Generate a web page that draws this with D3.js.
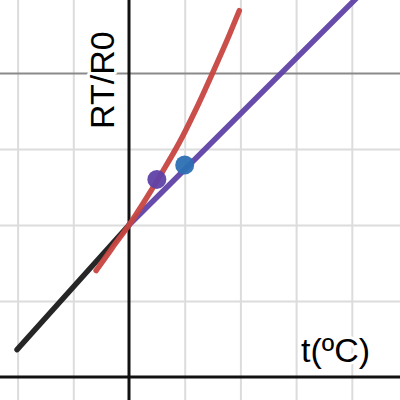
<!DOCTYPE html>
<html>
<head>
<meta charset="utf-8">
<script src="https://cdn.jsdelivr.net/npm/d3@7/dist/d3.min.js"></script>
<style>
  html, body { margin: 0; padding: 0; background: #fff; }
  svg { display: block; }
  .lbl { font-family: "Liberation Sans", Arial, sans-serif; font-size: 34px; fill: #000;
         stroke: #fff; stroke-width: 6px; paint-order: stroke; stroke-linejoin: round; }
</style>
</head>
<body>
<svg id="chart" width="400" height="400"></svg>
<script>
// ---- data (t in °C, RT/R0) ----
const xMinorTicks = [-200, -100, 100, 200, 300, 400];
const yMinorTicks = [0.5, 1, 1.5];
const yMajorTicks = [2];

const blackT = [-201, 0];
const blackR = [0.18, 1.0];

const purpleT = [0, 420];
const purpleR = [1.0, 2.535];

const redT = [-59, -30, 0, 30, 60, 90, 120, 150, 180, 198];
const redR = [0.70, 0.85, 1.0, 1.17, 1.35, 1.54, 1.76, 2.0, 2.25, 2.41];

const dotPurple = { t: 50, r: 1.30 };
const dotBlue = { t: 100, r: 1.395 };

const xLabel = "t(ºC)";
const yLabel = "RT/R0";

// ---- drawing ----
const W = 400, H = 400;
const svg = d3.select("#chart");
const x = d3.scaleLinear().domain([-231.6, 486.5]).range([0, W]);
const y = d3.scaleLinear().domain([-0.1513, 2.4803]).range([H, 0]);

function gridX(ticks, color, width) {
  const g = svg.append("g").attr("transform", `translate(0,${H})`)
    .call(d3.axisBottom(x).tickValues(ticks).tickSize(-H).tickFormat(""));
  g.select(".domain").remove();
  g.selectAll(".tick line").attr("stroke", color).attr("stroke-width", width);
}
function gridY(ticks, color, width) {
  const g = svg.append("g")
    .call(d3.axisLeft(y).tickValues(ticks).tickSize(-W).tickFormat(""));
  g.select(".domain").remove();
  g.selectAll(".tick line").attr("stroke", color).attr("stroke-width", width);
}
gridX(xMinorTicks, "#dcdcdc", 2);
gridY(yMinorTicks, "#dcdcdc", 2);
gridY(yMajorTicks, "#8a8a8a", 2);

// axes
svg.append("line").attr("x1", 0).attr("x2", W).attr("y1", y(0)).attr("y2", y(0))
  .attr("stroke", "#111").attr("stroke-width", 3);
svg.append("line").attr("x1", x(0)).attr("x2", x(0)).attr("y1", 0).attr("y2", H)
  .attr("stroke", "#111").attr("stroke-width", 3);

// labels
svg.append("text").attr("class", "lbl").attr("x", 301).attr("y", 362).text(xLabel);
svg.append("text").attr("class", "lbl")
  .attr("transform", `translate(114,129) rotate(-90)`).text(yLabel);

function drawLine(ts, rs, color, curve) {
  const pts = ts.map((t, i) => [t, rs[i]]);
  svg.append("path").datum(pts)
    .attr("fill", "none").attr("stroke", color).attr("stroke-width", 5.5)
    .attr("stroke-opacity", 0.95)
    .attr("stroke-linecap", "round").attr("stroke-linejoin", "round")
    .attr("d", d3.line().x(d => x(d[0])).y(d => y(d[1])).curve(curve || d3.curveLinear));
}
drawLine(blackT, blackR, "#1a1a1a");
drawLine(purpleT, purpleR, "#6042a6");
drawLine(redT, redR, "#c74440", d3.curveMonotoneX);

svg.append("circle").attr("cx", x(dotPurple.t)).attr("cy", y(dotPurple.r)).attr("r", 9.5)
  .attr("fill", "#6042a6").attr("fill-opacity", 0.95);
svg.append("circle").attr("cx", x(dotBlue.t)).attr("cy", y(dotBlue.r)).attr("r", 9.5)
  .attr("fill", "#2d70b3").attr("fill-opacity", 0.95);
</script>
</body>
</html>
